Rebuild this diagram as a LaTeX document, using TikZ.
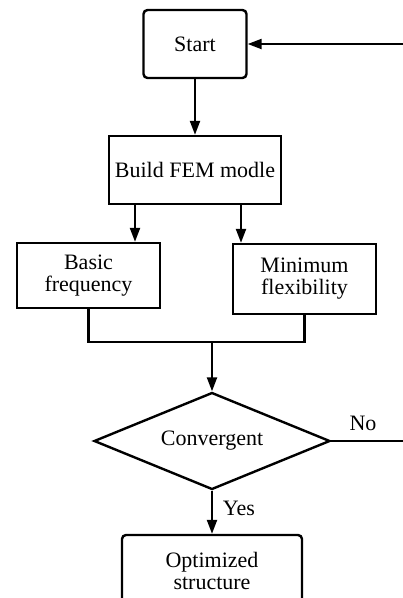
\documentclass[tikz,border=0pt]{standalone}
\usepackage{fontspec}
\setmainfont{Liberation Serif}
\usetikzlibrary{shapes.geometric,arrows.meta}

\tikzset{
  box/.style={draw,line width=2.4pt,inner sep=0pt,align=center,font=\fontsize{22}{22}\selectfont},
  roundbox/.style={box,rounded corners=4pt},
  decision/.style={box,diamond,shape aspect=2.4},
  flow/.style={line width=2.2pt},
  arr/.style={flow,-{Triangle[length=14pt,width=10pt]}},
  lbl/.style={inner sep=0pt,font=\fontsize{22}{22}\selectfont}
}

\begin{document}
\begin{tikzpicture}[x=1pt,y=1pt,yscale=-1]
\clip (0,0) rectangle (403,598);

%Shape: Start [id:start]
\node[roundbox,minimum width=103pt,minimum height=68pt] (start) at (195,44) {Start};
%Shape: Build [id:build]
\node[box,minimum width=172pt,minimum height=68pt] (build) at (195,170) {Build FEM modle};
%Shape: Basic [id:basic]
\node[box,minimum width=143pt,minimum height=65pt] (basic) at (88.5,275.5) {Basic\\frequency};
%Shape: Minimum [id:minflex]
\node[box,minimum width=143pt,minimum height=70pt] (minflex) at (304.5,279) {Minimum\\flexibility};
%Shape: Diamond [id:conv]
\node[decision,minimum width=236pt,minimum height=97pt] (conv) at (212,441) {Convergent};
%Shape: Optimized [id:opt]
\node[roundbox,minimum width=180pt,minimum height=72pt] (opt) at (212,571) {Optimized\\structure};

%Free ends and joint
\coordinate (loopin) at (403,44);
\coordinate (loopout) at (403,441);
\coordinate (join) at (212,342);

%Straight Lines
\draw[arr] (loopin) -- (start.east);
\draw[arr] (start) -- (build);
\draw[arr] ([xshift=-60pt]build.south) -- ([xshift=-60pt]build.south |- basic.north);
\draw[arr] ([xshift=46pt]build.south) -- ([xshift=46pt]build.south |- minflex.north);
\draw[flow] (basic.south) |- (join) -| (minflex.south);
\draw[arr] (join) -- (conv.north);
\draw[line width=1.3pt] (conv.east) -- (loopout);
\draw[arr] (conv.south) -- (opt.north);

% Text Node
\node[lbl] (no) at (363,423) {No};
% Text Node
\node[lbl] (yes) at (239,508) {Yes};

\end{tikzpicture}
\end{document}
